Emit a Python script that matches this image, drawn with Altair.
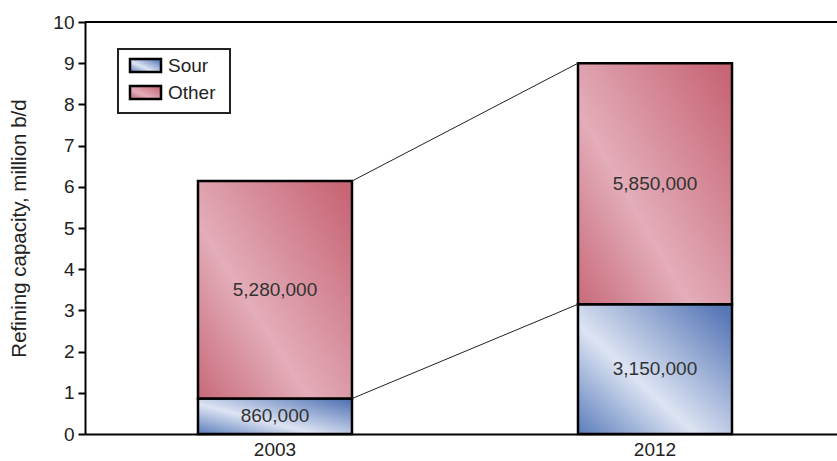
import altair as alt
import pandas as pd

# Refining capacity, million b/d
years = ["2003", "2012"]
sour = [0.86, 3.15]
other = [5.28, 5.85]
series = ["Sour", "Other"]

W, H = 752, 412
FONT = "Liberation Sans"

rows = []
for yr, s, o in zip(years, sour, other):
    rows.append({"year": yr, "kind": "Sour", "base": 0.0, "top": s,
                 "label": f"{round(s * 1e6):,}"})
    rows.append({"year": yr, "kind": "Other", "base": s, "top": s + o,
                 "label": f"{round(o * 1e6):,}"})
bars = pd.DataFrame(rows)
bars["mid"] = (bars["base"] + bars["top"]) / 2

# connector lines between the two stacks (top of each segment)
links = pd.DataFrame({
    "x": [years[0], years[0]],
    "x2": [years[1], years[1]],
    "y": [sour[0], sour[0] + other[0]],
    "y2": [sour[1], sour[1] + other[1]],
})


def grad(dark, light, dark2, mid=0.37):
    return alt.Gradient(
        gradient="linear", x1=0, y1=1, x2=1, y2=0.1,
        stops=[alt.GradientStop(color=dark, offset=0),
               alt.GradientStop(color=light, offset=mid),
               alt.GradientStop(color=dark2, offset=1)],
    )


fills = {
    "Sour": grad("#5a7dba", "#dde4f3", "#5676b6", 0.42),
    "Other": grad("#c86a7a", "#e3adb9", "#c86676", 0.4),
}

xscale = alt.Scale(domain=years, paddingInner=0.1211, paddingOuter=0.05, align=0.605)
yscale = alt.Scale(domain=[0, 10], nice=False)

x_enc = alt.X("year:N", scale=xscale, title=None,
              axis=alt.Axis(labelAngle=0, ticks=False, domainColor="black",
                            domainWidth=2, labelFontSize=19, labelColor="#222",
                            labelPadding=6, labelFont=FONT))
y_axis = alt.Axis(values=list(range(0, 11)), grid=False, domainColor="black",
                  domainWidth=2, tickColor="black", tickWidth=2, tickSize=7,
                  labelFontSize=19, labelColor="#222", labelPadding=4,
                  labelFont=FONT, title="Refining capacity, million b/d",
                  titleFontSize=20.5, titleFontWeight="normal", titleColor="#222",
                  titleFont=FONT, titlePadding=23)

layers = []
for kind in series:
    d = bars[bars["kind"] == kind]
    layers.append(
        alt.Chart(d).mark_bar(color=fills[kind], stroke="black", strokeWidth=2.5,
                              size=154)
        .encode(x=x_enc,
                y=alt.Y("base:Q", scale=yscale, axis=y_axis),
                y2="top:Q")
    )

labels = alt.Chart(bars).mark_text(fontSize=19, color="#333", font=FONT).encode(
    x=alt.X("year:N", scale=xscale),
    y=alt.Y("mid:Q", scale=yscale),
    text="label:N",
)

connectors = alt.Chart(links).mark_rule(color="#222", strokeWidth=1,
                                        xOffset=77, x2Offset=-77).encode(
    x=alt.X("x:N", scale=xscale),
    x2="x2:N",
    y=alt.Y("y:Q", scale=yscale),
    y2="y2:Q",
)

top_line = alt.Chart(pd.DataFrame({"v": [10]})).mark_rule(
    color="black", strokeWidth=2).encode(
    y=alt.Y("v:Q", scale=yscale), x=alt.value(0), x2=alt.value(W))

# legend box
leg_items = pd.DataFrame({"kind": series})
leg_box = alt.Chart(pd.DataFrame({"k": [0]})).mark_rect(
    fill="white", stroke="#222", strokeWidth=2).encode(
    x=alt.value(33), x2=alt.value(145), y=alt.value(27), y2=alt.value(91))
leg_layers = [leg_box]
for i, kind in enumerate(series):
    d = leg_items[leg_items["kind"] == kind]
    leg_layers.append(
        alt.Chart(d).mark_rect(color=fills[kind], stroke="black", strokeWidth=2.5)
        .encode(x=alt.value(45), x2=alt.value(76),
                y=alt.value(37 + 27 * i), y2=alt.value(50 + 27 * i)))
    leg_layers.append(
        alt.Chart(d).mark_text(align="left", baseline="middle", fontSize=19,
                               color="#222", font=FONT)
        .encode(x=alt.value(83), y=alt.value(44 + 27 * i), text="kind:N"))

chart = alt.layer(*layers, connectors, labels, top_line, *leg_layers).properties(
    width=W, height=H,
    autosize=alt.AutoSizeParams(type="none"),
    padding={"left": 85, "top": 22, "right": 0, "bottom": 27},
).configure_view(strokeWidth=0)

chart.save("out.html", embed_options={"renderer": "svg", "actions": False})
